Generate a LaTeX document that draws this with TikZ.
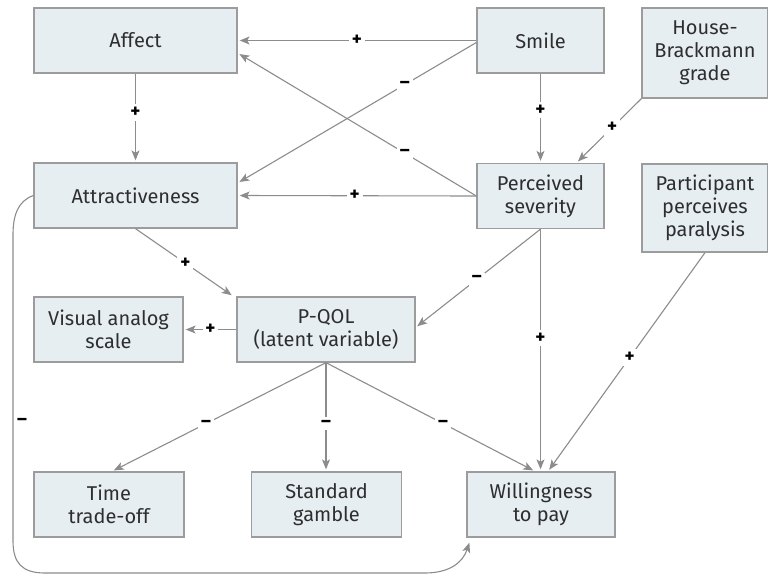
\documentclass[tikz,border=0pt]{standalone}
\usepackage{fontspec}
\setmainfont{Fira Sans}
\usetikzlibrary{arrows.meta,calc}
\definecolor{boxfill}{HTML}{E6EEF2}
\definecolor{boxdraw}{HTML}{9C9C9C}
\definecolor{linec}{HTML}{8C8C8C}
\definecolor{txt}{HTML}{2E2E2E}
\begin{document}
\begin{tikzpicture}[x=1pt,y=-1pt,
  box/.style={draw=boxdraw,fill=boxfill,line width=1.3pt,inner sep=0pt,
    text=txt,align=center,font=\fontsize{20}{23}\selectfont},
  conn/.style={draw=linec,line width=1.1pt,
    -{Stealth[length=10pt,width=8pt,inset=2.5pt]},shorten >=2pt},
  sg/.style={fill=white,inner sep=3pt,text=black,
    font=\fontsize{19}{19}\selectfont\bfseries}]
\useasboundingbox (0,0) rectangle (768,576);
% boxes
\node[box,minimum width=203pt,minimum height=65pt] (aff) at (135.5,40.5) {Affect};
\node[box,minimum width=127pt,minimum height=65pt] (smile) at (540.5,40.5) {Smile};
\node[box,minimum width=126pt,minimum height=90pt] (hb) at (705,53) {House-\\Brackmann\\grade};
\node[box,minimum width=203pt,minimum height=65pt] (attr) at (135.5,195.5) {Attractiveness};
\node[box,minimum width=127pt,minimum height=65pt] (perc) at (540.5,196) {Perceived\\severity};
\node[box,minimum width=126pt,minimum height=88pt] (part) at (705,208) {Participant\\perceives\\paralysis};
\node[box,minimum width=149pt,minimum height=65pt] (vas) at (108.5,329.5) {Visual analog\\scale};
\node[box,minimum width=178pt,minimum height=65pt] (pqol) at (326,329.5) {P-QOL\\(latent variable)};
\node[box,minimum width=150pt,minimum height=65pt] (tto) at (109,504.5) {Time\\trade-off};
\node[box,minimum width=150pt,minimum height=65pt] (sg) at (326.5,504.5) {Standard\\gamble};
\node[box,minimum width=148pt,minimum height=65pt] (wtp) at (541,504.5) {Willingness\\to pay};
% helper coordinates
\coordinate (affB) at ($(aff.east)+(0,12.5)$);
\coordinate (attrA) at ($(attr.east)+(0,-12.5)$);
\coordinate (smileL) at ($(smile.west)+(0,2)$);
\coordinate (hbL) at (hb.south west);
\coordinate (percR) at ($(perc.north)+(36,0)$);
\coordinate (pqolT) at ($(pqol.north west)+(-3,0)$);
\coordinate (pqolR) at ($(pqol.east)+(0,-2)$);
\coordinate (wtpL) at ($(wtp.north)+(-6,0)$);
\coordinate (wtpR) at ($(wtp.north)+(7,0)$);
\coordinate (wtpC) at (perc.south |- wtp.north);
\coordinate (ttoT) at ($(tto.north)+(3,0)$);
\coordinate (sgT) at (pqol.south |- sg.north);
\coordinate (wtpBL) at ($(wtp.south west)+(3,5)$);
% connectors
\draw[conn] (smile.west) -- node[sg,pos=0.5]{+} (aff.east);
\draw[conn] (perc.west) -- node[sg,pos=0.30]{–} (affB);
\draw[conn] (smileL) -- node[sg,pos=0.30]{–} (attrA);
\draw[conn] (aff.south) -- node[sg,pos=0.44]{+} (attr.north);
\draw[conn] (smile.south) -- node[sg,pos=0.41]{+} (perc.north);
\draw[conn] (hbL) -- node[sg,pos=0.45]{+} (percR);
\draw[conn] (perc.west) -- node[sg,pos=0.51]{+} (attr.east);
\draw[conn] (attr.south) -- node[sg,pos=0.51]{+} (pqolT);
\draw[conn] (pqol.west) -- node[sg,pos=0.49,inner sep=2pt]{+} (vas.east);
\draw[conn] (perc.south) -- node[sg,pos=0.51]{–} (pqolR);
\draw[conn] (perc.south) -- node[sg,pos=0.45]{+} (wtpC);
\draw[conn] (part.south) -- node[sg,pos=0.48]{+} (wtpR);
\draw[conn] (pqol.south) -- node[sg,pos=0.56]{–} (ttoT);
\draw[conn] (pqol.south) -- node[sg,pos=0.56]{–} (sgT);
\draw[conn] (pqol.south) -- node[sg,pos=0.56]{–} (wtpL);
\draw[conn,shorten >=0pt] (attr.west) .. controls (18,201) and (13,215) .. (13,235)
  -- (13,541) .. controls (13,563) and (22,573) .. (45,573)
  -- (425,573) .. controls (450,573) and (463,562) .. (wtpBL);
\node[sg,fill=none] (curvelbl) at (22,422) {–};
\end{tikzpicture}
\end{document}
